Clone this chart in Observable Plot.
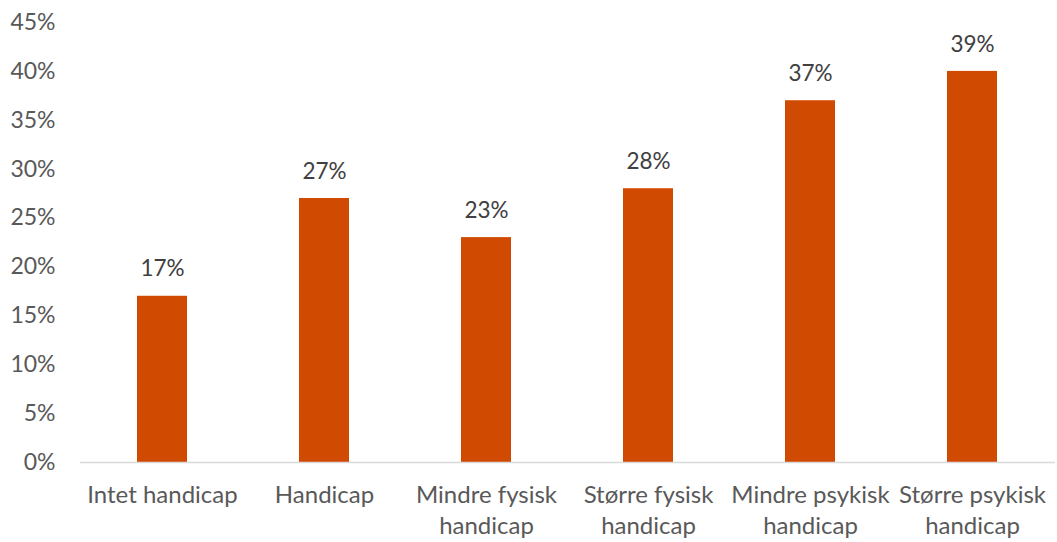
<!DOCTYPE html>
<html>
<head>
<meta charset="utf-8">
<script src="https://cdn.jsdelivr.net/npm/d3@7"></script>
<script src="https://cdn.jsdelivr.net/npm/@observablehq/plot@0.6"></script>
<style>
  html, body { margin: 0; padding: 0; background: #fff; }
</style>
</head>
<body>
<div id="chart"></div>
<script>
const categories = [
  "Intet handicap",
  "Handicap",
  "Mindre fysisk\nhandicap",
  "Større fysisk\nhandicap",
  "Mindre psykisk\nhandicap",
  "Større psykisk\nhandicap"
];
const values = [17, 27, 23, 28, 37, 40];
const valueLabels = ["17%", "27%", "23%", "28%", "37%", "39%"];
const yTicks = [0, 5, 10, 15, 20, 25, 30, 35, 40, 45];

const data = categories.map((c, i) => ({category: c, value: values[i], label: valueLabels[i]}));

const chart = Plot.plot({
  width: 1057,
  height: 542,
  marginLeft: 80,
  marginRight: 2,
  marginTop: 22,
  marginBottom: 80,
  style: {fontFamily: "Lato, 'Open Sans', sans-serif", background: "#fff"},
  x: {domain: categories, paddingInner: 0.69, paddingOuter: 0.345, align: 0.5},
  y: {domain: [0, 45]},
  marks: [
    Plot.barY(data, {x: "category", y: "value", fill: "#D04A02"}),
    Plot.ruleY([0], {stroke: "#d9d9d9", strokeWidth: 1.5}),
    Plot.text(data, {x: "category", y: "value", text: "label", dy: -27, fill: "#404040", fontSize: 22.5}),
    Plot.axisY({ticks: yTicks, tickFormat: d => d + "%", tickSize: 0, tickPadding: 25, fontSize: 23, fill: "#595959", label: null}),
    Plot.axisX({tickSize: 0, tickPadding: 19, fontSize: 24, fill: "#595959", lineHeight: 1.27, label: null})
  ]
});
document.getElementById("chart").appendChild(chart);
</script>
</body>
</html>
